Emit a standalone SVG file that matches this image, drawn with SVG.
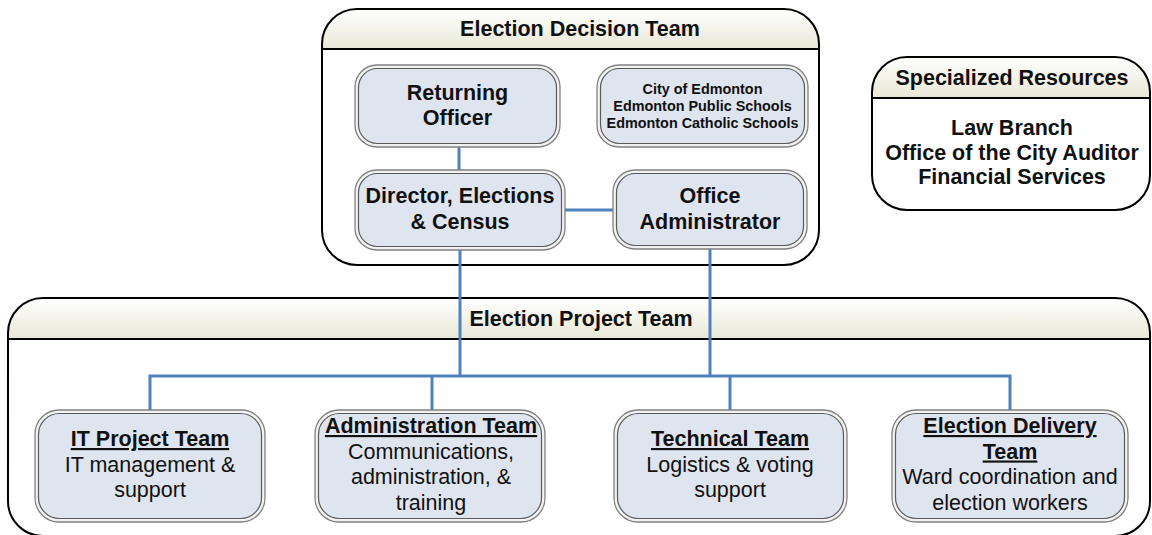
<svg xmlns="http://www.w3.org/2000/svg" width="1152" height="535" viewBox="0 0 1152 535">
<defs>
<linearGradient id="hdr" x1="0" y1="0" x2="0" y2="1">
<stop offset="0" stop-color="#ffffff"/>
<stop offset="1" stop-color="#e8e7d6"/>
</linearGradient>
<clipPath id="cDec"><rect x="322" y="9" width="497" height="256" rx="35"/></clipPath>
<clipPath id="cSpec"><rect x="872" y="57" width="278" height="153" rx="35"/></clipPath>
<clipPath id="cProj"><rect x="8" y="298" width="1142" height="238" rx="35"/></clipPath>
</defs>
<style>
.cont{fill:none;stroke:#000;stroke-width:2}
.body{fill:#fff}
.div{stroke:#000;stroke-width:2}
.hd{font-family:"Liberation Sans",Arial,sans-serif;font-weight:bold;font-size:21.5px;fill:#111;text-anchor:middle}
.outer{fill:#f2f2f2;stroke:#808080;stroke-width:1.3}
.inner{fill:#dfe5ef;stroke:#5a5a5a;stroke-width:1.2}
.t{font-family:"Liberation Sans",Arial,sans-serif;font-size:21.5px;fill:#111;text-anchor:middle}
.b{font-weight:bold}
.s{font-family:"Liberation Sans",Arial,sans-serif;font-size:14.4px;font-weight:bold;fill:#111;text-anchor:middle}
.u{text-decoration:underline}
.con{fill:none;stroke:#4f81bd;stroke-width:3}
</style>

<g id="decision-team">
<rect class="body" x="322" y="9" width="497" height="256" rx="35"/>
<rect x="322" y="9" width="497" height="40" fill="url(#hdr)" clip-path="url(#cDec)"/>
<line class="div" x1="322" y1="49" x2="819" y2="49"/>
<rect class="cont" x="322" y="9" width="497" height="256" rx="35"/>
<text class="hd" x="580" y="35.5">Election Decision Team</text>
</g>

<g id="specialized-resources">
<rect class="body" x="872" y="57" width="278" height="153" rx="35"/>
<rect x="872" y="57" width="278" height="41" fill="url(#hdr)" clip-path="url(#cSpec)"/>
<line class="div" x1="872" y1="98" x2="1150" y2="98"/>
<rect class="cont" x="872" y="57" width="278" height="153" rx="35"/>
<text class="hd" x="1012" y="84.5">Specialized Resources</text>
<text class="t b" x="1012" y="135">Law Branch</text>
<text class="t b" x="1012" y="159.5">Office of the City Auditor</text>
<text class="t b" x="1012" y="184">Financial Services</text>
</g>

<g id="project-team">
<rect class="body" x="8" y="298" width="1142" height="238" rx="35"/>
<rect x="8" y="298" width="1142" height="41" fill="url(#hdr)" clip-path="url(#cProj)"/>
<line class="div" x1="8" y1="339" x2="1150" y2="339"/>
<rect class="cont" x="8" y="298" width="1142" height="238" rx="35"/>
<text class="hd" x="581" y="325.5">Election Project Team</text>
</g>

<g id="connectors">
<line class="con" x1="459" y1="146" x2="459" y2="171"/>
<line class="con" x1="564" y1="210" x2="614" y2="210"/>
<polyline class="con" points="460,249 460,376"/>
<polyline class="con" points="710,248 710,376"/>
<polyline class="con" points="150,411 150,376 1010,376 1010,411"/>
<line class="con" x1="432" y1="376" x2="432" y2="411"/>
<line class="con" x1="730" y1="376" x2="730" y2="411"/>
</g>

<g id="returning-officer">
<rect class="outer" x="355" y="65" width="205" height="82" rx="22"/>
<rect class="inner" x="358.5" y="68.5" width="198" height="75" rx="19"/>
<text class="t b" x="457.5" y="100">Returning</text>
<text class="t b" x="457.5" y="125">Officer</text>
</g>

<g id="partners">
<rect class="outer" x="597" y="65" width="211" height="82" rx="22"/>
<rect class="inner" x="600.5" y="68.5" width="204" height="75" rx="19"/>
<text class="s" x="702.5" y="94">City of Edmonton</text>
<text class="s" x="702.5" y="111">Edmonton Public Schools</text>
<text class="s" x="702.5" y="128">Edmonton Catholic Schools</text>
</g>

<g id="director">
<rect class="outer" x="355" y="170" width="210" height="80" rx="22"/>
<rect class="inner" x="358.5" y="173.5" width="203" height="73" rx="19"/>
<text class="t b" x="460" y="203">Director, Elections</text>
<text class="t b" x="460" y="229">&amp; Census</text>
</g>

<g id="office-administrator">
<rect class="outer" x="613" y="170" width="194" height="79" rx="22"/>
<rect class="inner" x="616.5" y="173.5" width="187" height="72" rx="19"/>
<text class="t b" x="710" y="203">Office</text>
<text class="t b" x="710" y="229">Administrator</text>
</g>

<g id="it-project-team">
<rect class="outer" x="35" y="410" width="230" height="112" rx="24"/>
<rect class="inner" x="38.5" y="413.5" width="223" height="105" rx="21"/>
<text class="t b u" x="150" y="446">IT Project Team</text>
<text class="t" x="150" y="471.5">IT management &amp;</text>
<text class="t" x="150" y="497">support</text>
</g>

<g id="administration-team">
<rect class="outer" x="315" y="410" width="230" height="112" rx="24"/>
<rect class="inner" x="318.5" y="413.5" width="223" height="105" rx="21"/>
<text class="t b u" x="431" y="433">Administration Team</text>
<text class="t" x="431" y="458.5">Communications,</text>
<text class="t" x="431" y="484">administration, &amp;</text>
<text class="t" x="431" y="509.5">training</text>
</g>

<g id="technical-team">
<rect class="outer" x="614" y="410" width="233" height="112" rx="24"/>
<rect class="inner" x="617.5" y="413.5" width="226" height="105" rx="21"/>
<text class="t b u" x="730" y="446">Technical Team</text>
<text class="t" x="730" y="471.5">Logistics &amp; voting</text>
<text class="t" x="730" y="497">support</text>
</g>

<g id="election-delivery-team">
<rect class="outer" x="892" y="410" width="236" height="112" rx="24"/>
<rect class="inner" x="895.5" y="413.5" width="229" height="105" rx="21"/>
<text class="t b u" x="1010" y="433">Election Delivery</text>
<text class="t b u" x="1010" y="458.5">Team</text>
<text class="t" x="1010" y="484">Ward coordination and</text>
<text class="t" x="1010" y="509.5">election workers</text>
</g>
</svg>
